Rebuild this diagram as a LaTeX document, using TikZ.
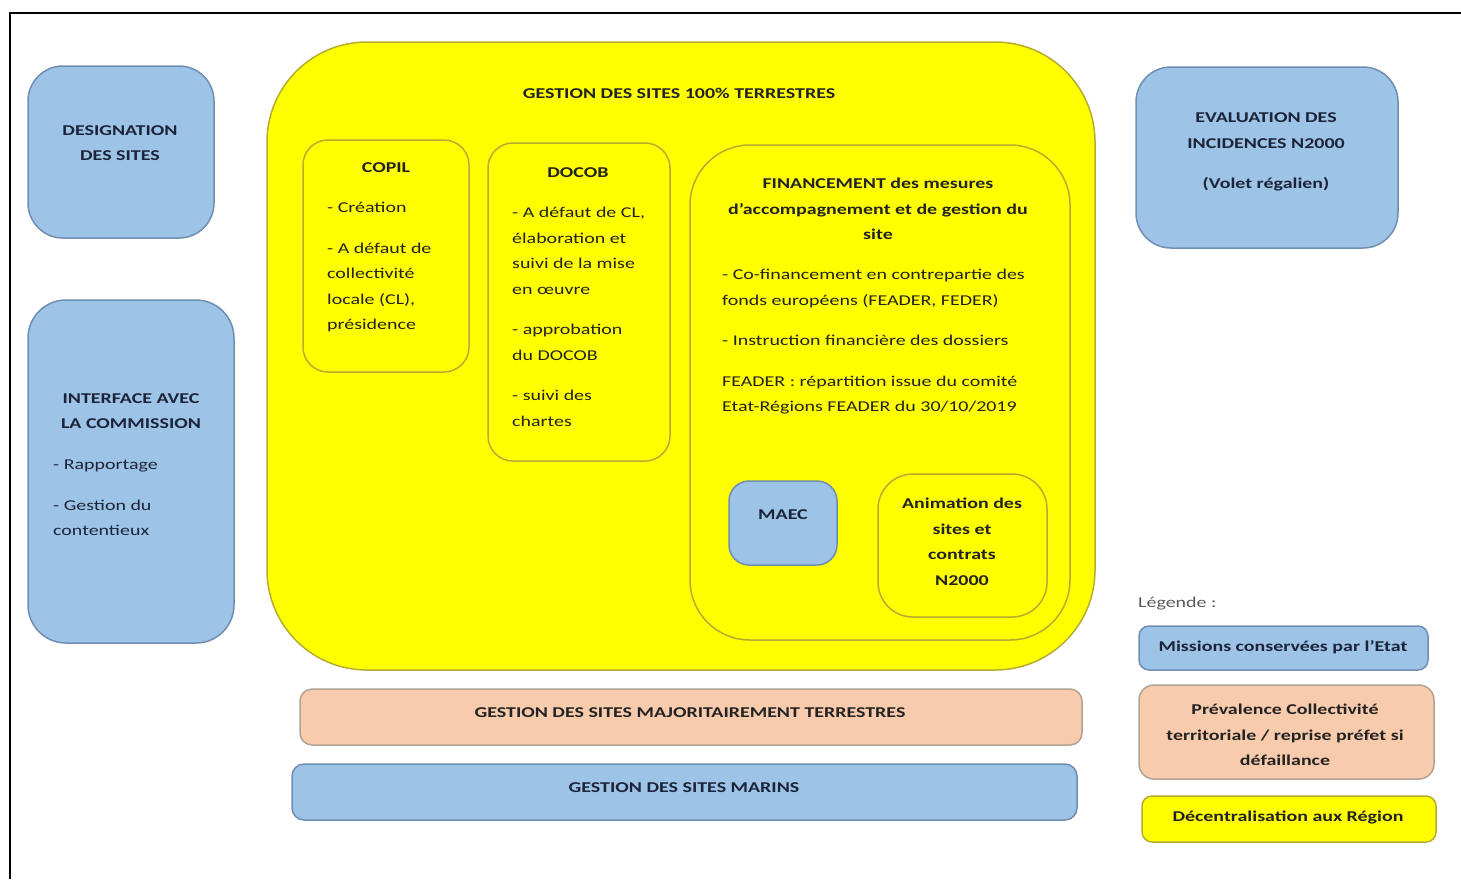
\documentclass[tikz,border=0pt]{standalone}
\usepackage{fontspec}
\setmainfont{Carlito}[FakeStretch=1.33]
\definecolor{stateblue}{RGB}{157,195,230}
\definecolor{stateedge}{RGB}{112,142,178}
\definecolor{regionyellow}{RGB}{255,255,0}
\definecolor{regionedge}{RGB}{182,172,46}
\definecolor{ctorange}{RGB}{248,203,173}
\definecolor{ctedge}{RGB}{176,162,148}
\definecolor{ink}{RGB}{34,34,34}
\definecolor{navyink}{RGB}{28,36,58}
\tikzset{
  bluebox/.style={draw=stateedge, fill=stateblue, line width=1.5pt, rounded corners=#1},
  bluebox/.default=30pt,
  yellowbox/.style={draw=regionedge, fill=regionyellow, line width=1.5pt, rounded corners=#1},
  yellowbox/.default=25pt,
  orangebox/.style={draw=ctedge, fill=ctorange, line width=1.5pt, rounded corners=#1},
  orangebox/.default=12pt,
  boxtitle/.style={font=\bfseries\fontsize{15}{25.5}\selectfont, text=ink, inner sep=0pt, align=center},
  boxbody/.style={font=\fontsize{15}{25.5}\selectfont, text=ink, inner sep=0pt, align=left, anchor=north west},
}
\begin{document}
\begin{tikzpicture}[x=1pt, y=-1pt]
    \useasboundingbox (0,0) rectangle (1461,879);

    % Frame
    \draw[line width=2.5pt] (10,879) -- (10,13) -- (1461,13);

    % State missions, left and right
    \draw[bluebox=35pt] (28,66) rectangle (214,238);
    \node[boxtitle, text=navyink] (desig) at (120,143) {DESIGNATION\\DES SITES};

    \draw[bluebox=38pt] (28,300) rectangle (234,643);
    \node[boxtitle, text=navyink] (iface) at (131,411) {INTERFACE AVEC\\LA COMMISSION};
    \node[boxbody, text=navyink] (ifacetxt) at (53,460) {- Rapportage\\[15pt]- Gestion du\\contentieux};

    \draw[bluebox=35pt] (1136,67) rectangle (1398,248);
    \node[boxtitle, text=navyink] (evaluation) at (1266,152) {EVALUATION DES\\INCIDENCES N2000\\[15pt](Volet régalien)};

    % Sites 100% terrestres
    \draw[yellowbox=100pt] (267,42) rectangle (1095,670);
    \node[boxtitle] (terrestre) at (679,93) {GESTION DES SITES 100\% TERRESTRES};

    \draw[yellowbox] (303,140) rectangle (469,372);
    \node[boxtitle] (copil) at (386,168) {COPIL};
    \node[boxbody] (copiltxt) at (327,202) {- Création\\[15pt]- A défaut de\\collectivité\\locale (CL),\\présidence};

    \draw[yellowbox] (488,143) rectangle (670,461);
    \node[boxtitle] (docob) at (578,173) {DOCOB};
    \node[boxbody] (docobtxt) at (512,207) {- A défaut de CL,\\élaboration et\\suivi de la mise\\en œuvre\\[15pt]- approbation\\du DOCOB\\[15pt]- suivi des\\chartes};

    \draw[yellowbox=60pt] (690,145) rectangle (1070,640);
    \node[boxtitle] (finance) at (878,209) {FINANCEMENT des mesures\\d’accompagnement et de gestion du\\site};
    \node[boxbody] (financetxt) at (722,269) {- Co-financement en contrepartie des\\fonds européens (FEADER, FEDER)\\[15pt]- Instruction financière des dossiers\\[15pt]FEADER : répartition issue du comité\\Etat-Régions FEADER du 30/10/2019};

    \draw[bluebox=20pt] (729,481) rectangle (837,565);
    \node[boxtitle, text=navyink] (maec) at (783,515) {MAEC};

    \draw[yellowbox=35pt] (878,474) rectangle (1047,617);
    \node[boxtitle] (animation) at (962,542) {Animation des\\sites et\\contrats\\N2000};

    % Other sites
    \draw[orangebox] (300,689) rectangle (1082,745);
    \node[boxtitle] (majoritaire) at (690,713) {GESTION DES SITES MAJORITAIREMENT TERRESTRES};

    \draw[bluebox=12pt] (292,764) rectangle (1077,820);
    \node[boxtitle, text=navyink] (marins) at (684,788) {GESTION DES SITES MARINS};

    % Legend
    \node[anchor=west, inner sep=0pt, font=\fontsize{15}{18}\selectfont, text=black!65] (legende) at (1138,604) {Légende :};

    \draw[bluebox=10pt] (1139,626) rectangle (1428,670);
    \node[boxtitle, text=navyink] (legstate) at (1283,647) {Missions conservées par l’Etat};

    \draw[orangebox=15pt] (1139,685) rectangle (1434,779);
    \node[boxtitle] (legct) at (1285,735) {Prévalence Collectivité\\territoriale / reprise préfet si\\défaillance};

    \draw[yellowbox=10pt] (1142,796) rectangle (1436,842);
    \node[boxtitle] (legregion) at (1288,817) {Décentralisation aux Région};
\end{tikzpicture}
\end{document}
